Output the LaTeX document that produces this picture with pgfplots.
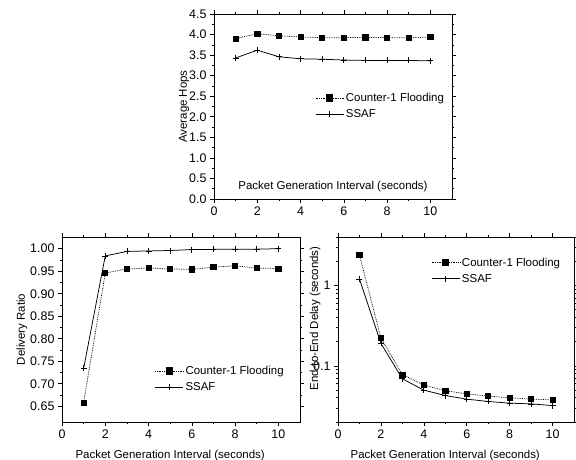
\documentclass[border=0pt]{standalone}
\usepackage{fontspec}
\setmainfont{Liberation Sans}
\usepackage{pgfplots}
\pgfplotsset{compat=1.18}
\pgfplotsset{
  base/.style={
    scale only axis, width=238bp, height=185bp, anchor=south west,
    xmin=0, xmax=11, xtick={0,2,4,6,8,10}, minor x tick num=1,
    tick align=outside, major tick length=4bp, minor tick length=2.2bp,
    every tick/.style={black, line width=0.6bp},
    axis line style={line width=0.8bp},
    /pgf/number format/assume math mode=true,
    tick label style={font=\fontsize{12.5}{14}\selectfont},
    label style={font=\fontsize{11.5}{13}\selectfont},
    legend style={draw=none, fill=none, font=\fontsize{11.5}{13}\selectfont, row sep=2.5bp, inner sep=1bp, cells={anchor=west}},
    legend image code/.code={\draw[mark repeat=2,mark phase=2,##1, mark size=3.2bp] plot coordinates {(0bp,0bp) (14bp,0bp) (28bp,0bp)};},
  },
  flood/.style={black, densely dotted, line width=0.75bp, mark=square*, mark size=2.6bp, mark options={solid}},
  ssaf/.style={black, solid, line width=0.75bp, mark=+, mark size=3bp, mark options={solid}},
}
\begin{document}
\begin{tikzpicture}
\path[use as bounding box] (0bp,0bp) rectangle (576bp,460bp);
% top
\begin{axis}[base, at={(214bp,261bp)},
  ymin=0, ymax=4.5, ytick={0,0.5,...,4.5}, minor y tick num=1,
  yticklabel style={/pgf/number format/.cd, fixed, fixed zerofill, precision=1},
  xlabel={Packet Generation Interval (seconds)},
  xlabel style={at={(axis description cs:0.5,0.065)}, anchor=center},
  ylabel={Average Hops},
  ylabel style={at={(axis description cs:-0.126,0.5)}, anchor=center},
  legend style={at={(axis description cs:0.42,0.59)}, anchor=north west}]
\addplot[flood] coordinates {(1,3.90)(2,4.02)(3,3.97)(4,3.94)(5,3.925)(6,3.925)(7,3.93)(8,3.925)(9,3.92)(10,3.94)};
\addlegendentry{Counter-1 Flooding}
\addplot[ssaf] coordinates {(1,3.43)(2,3.62)(3,3.46)(4,3.41)(5,3.40)(6,3.38)(7,3.37)(8,3.37)(9,3.37)(10,3.36)};
\addlegendentry{SSAF}
\end{axis}
% bottom left
\begin{axis}[base, at={(62bp,38bp)},
  ymin=0.615, ymax=1.026, ytick={0.65,0.70,...,1.001}, minor y tick num=1,
  yticklabel style={/pgf/number format/.cd, fixed, fixed zerofill, precision=2},
  xlabel={Packet Generation Interval (seconds)},
  xlabel style={at={(axis description cs:0.4545,-0.18)}, anchor=center},
  ylabel={Delivery Ratio},
  ylabel style={at={(axis description cs:-0.168,0.5)}, anchor=center},
  legend style={at={(axis description cs:0.385,0.32)}, anchor=north west}]
\addplot[flood] coordinates {(1,0.658)(2,0.946)(3,0.955)(4,0.957)(5,0.955)(6,0.954)(7,0.959)(8,0.962)(9,0.957)(10,0.956)};
\addlegendentry{Counter-1 Flooding}
\addplot[ssaf] coordinates {(1,0.734)(2,0.984)(3,0.994)(4,0.995)(5,0.996)(6,0.998)(7,0.9985)(8,0.999)(9,0.999)(10,1.0)};
\addlegendentry{SSAF}
\end{axis}
% bottom right
\begin{axis}[base, at={(338bp,38bp)}, width=236bp,
  ymode=log, ymin=0.02, ymax=4,
  ytick={0.1,1}, yticklabels={0.1,1},
  minor ytick={0.02,0.03,0.04,0.05,0.06,0.07,0.08,0.09,0.2,0.3,0.4,0.5,0.6,0.7,0.8,0.9,2,3,4},
  xlabel={Packet Generation Interval (seconds)},
  xlabel style={at={(axis description cs:0.4545,-0.18)}, anchor=center},
  ylabel={End-to-End Delay (seconds)},
  ylabel style={at={(axis description cs:-0.097,0.56)}, anchor=center},
  legend style={at={(axis description cs:0.39,0.905)}, anchor=north west}]
\addplot[flood] coordinates {(1,2.39)(2,0.221)(3,0.078)(4,0.0574)(5,0.049)(6,0.0448)(7,0.042)(8,0.040)(9,0.0385)(10,0.0377)};
\addlegendentry{Counter-1 Flooding}
\addplot[ssaf] coordinates {(1,1.2)(2,0.19)(3,0.069)(4,0.0498)(5,0.0427)(6,0.0385)(7,0.036)(8,0.0343)(9,0.0336)(10,0.032)};
\addlegendentry{SSAF}
\end{axis}
\end{tikzpicture}
\end{document}
